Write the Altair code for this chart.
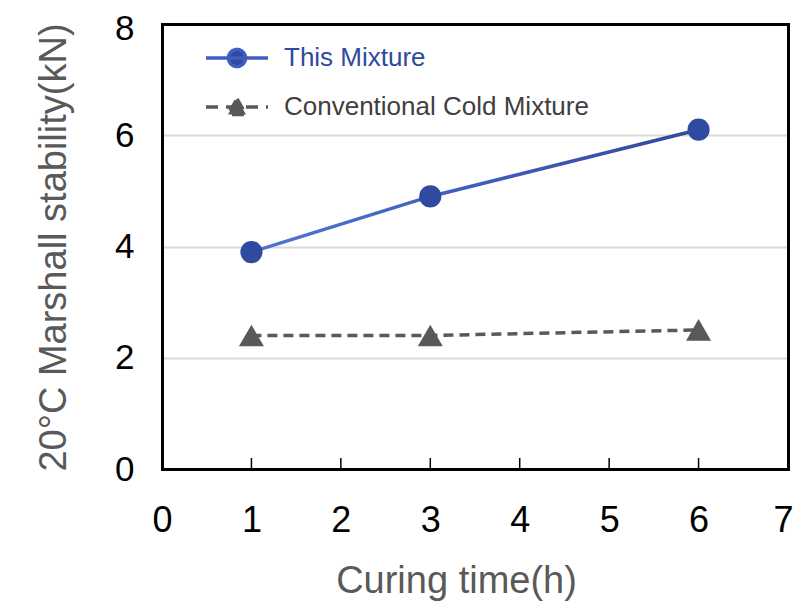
import altair as alt
import pandas as pd

# ---- data ----
curing_time = [1, 3, 6]
this_mixture = [3.9, 4.9, 6.1]
conventional = [2.4, 2.4, 2.5]
series_names = ["This Mixture", "Conventional Cold Mixture"]
x_ticks = [0, 1, 2, 3, 4, 5, 6, 7]
y_ticks = [0, 2, 4, 6, 8]

rows = []
for t, v in zip(curing_time, this_mixture):
    rows.append({"time": t, "value": v, "series": series_names[0]})
for t, v in zip(curing_time, conventional):
    rows.append({"time": t, "value": v, "series": series_names[1]})
df = pd.DataFrame(rows)
tick_df = pd.DataFrame({"time": x_ticks[1:-1]})

BLUE = "#2f4a9e"
BLUE_L = "#5073d4"
GRAY = "#595959"
TXT_GRAY = "#404040"
SANS = "Liberation Sans, Arial, sans-serif"

x_scale = alt.Scale(domain=[0, 7], nice=False, zero=False)
y_scale = alt.Scale(domain=[0, 8], nice=False)

x_axis = alt.Axis(
    values=x_ticks, title="Curing time(h)", grid=False, ticks=False,
    domain=True, domainColor="black", domainWidth=3, domainCap="square",
    labelFont=SANS, labelFontSize=36, labelColor="black", labelPadding=34,
    labelFlush=False, labelBaseline="top",
    labelOffset={"expr": "datum.value == 7 ? -5 : 0"},
    titleFont=SANS, titleFontSize=38, titleFontWeight="normal", titleColor=GRAY,
    titleX=294, titleY=123, titleBaseline="alphabetic", titleAlign="center",
)
y_axis = alt.Axis(
    values=y_ticks, title="20°C Marshall stability(kN)", grid=True,
    gridColor="#d9d9d9", gridWidth=2, ticks=False,
    domain=True, domainColor="black", domainWidth=3, domainCap="square",
    labelFont=SANS, labelFontSize=35, labelColor="black", labelPadding=28,
    labelFlush=False,
    labelOffset={"expr": "datum.value == 8 ? 4 : 0"},
    titleFont=SANS, titleFontSize=38, titleFontWeight="normal", titleColor=GRAY,
    titleX=-97, titleY=223, titleAngle=-90, titleBaseline="alphabetic",
    titleAlign="center",
)
x_axis_top = alt.Axis(
    orient="top", values=x_ticks, title=None, labels=False, ticks=False, grid=False,
    domain=True, domainColor="black", domainWidth=3, domainCap="square",
)
y_axis_right = alt.Axis(
    orient="right", values=y_ticks, title=None, labels=False, ticks=False, grid=False,
    domain=True, domainColor="black", domainWidth=3, domainCap="square",
)

x_enc = alt.X("time:Q", scale=x_scale, axis=x_axis)
y_enc = alt.Y("value:Q", scale=y_scale, axis=y_axis)

base = alt.Chart(df)

gradient = alt.LinearGradient(
    gradient="linear",
    stops=[alt.GradientStop(offset=0, color=BLUE_L), alt.GradientStop(offset=1, color=BLUE)],
    x1=0, x2=1, y1=0, y2=0,
)

line_this = base.transform_filter(alt.datum.series == series_names[0]).mark_line(
    stroke=gradient, strokeWidth=3.5
).encode(x=x_enc, y=y_enc)

line_conv = base.transform_filter(alt.datum.series == series_names[1]).mark_line(
    color=GRAY, strokeWidth=3.5, strokeDash=[10, 6]
).encode(x=x_enc, y=y_enc)

pts_this = base.transform_filter(alt.datum.series == series_names[0]).mark_point(
    shape="circle", filled=True, size=490, color=BLUE, opacity=1
).encode(x=x_enc, y=y_enc)

pts_conv = base.transform_filter(alt.datum.series == series_names[1]).mark_point(
    shape="triangle-up", filled=True, size=625, color=GRAY, opacity=1
).encode(x=x_enc, y=y_enc)

inner_ticks = alt.Chart(tick_df).mark_rule(color="black", strokeWidth=1.5).encode(
    x=x_enc, y=alt.value(445), y2=alt.value(434)
)

# legend symbols: line + marker drawn as custom symbol paths
path_circle = "M-3.1,0H3.1M0.85,0A0.85,0.85,0,1,1,-0.85,0A0.85,0.85,0,1,1,0.85,0Z"
path_tri = "M-3.1,0H3.1M0,-0.8L0.9,0.75L-0.9,0.75Z"

legend = alt.Legend(
    orient="none", legendX=62, legendY=21, title=None, padding=0,
    symbolSize=400, symbolStrokeWidth=3.5,
    labelFont=SANS, labelFontSize=26, labelOffset=34, rowPadding=18, labelLimit=600,
    labelColor={"expr": "datum.label == 'This Mixture' ? '%s' : '%s'" % (BLUE, TXT_GRAY)},
)

# empty layer: supplies the legend and the top/right frame lines
frame_legend = base.transform_filter("datum.time < 0").mark_point(opacity=1).encode(
    x=alt.X("time:Q", scale=x_scale, axis=x_axis_top),
    y=alt.Y("value:Q", scale=y_scale, axis=y_axis_right),
    fill=alt.Fill("series:N", scale=alt.Scale(domain=series_names, range=[BLUE, GRAY]), legend=legend),
    stroke=alt.Stroke("series:N", scale=alt.Scale(domain=series_names, range=["#3f5fc0", GRAY]), legend=legend),
    shape=alt.Shape("series:N", scale=alt.Scale(domain=series_names, range=[path_circle, path_tri]), legend=legend),
    strokeDash=alt.StrokeDash("series:N", scale=alt.Scale(domain=series_names, range=[[1, 0], [12, 8]]), legend=legend),
)

main = alt.layer(line_this, line_conv, pts_this, pts_conv, inner_ticks)

chart = alt.layer(main, frame_legend).resolve_axis(
    x="independent", y="independent"
).properties(
    width=626, height=445,
    autosize=alt.AutoSizeParams(type="none"),
    padding={"left": 154, "top": 16, "right": 6, "bottom": 132},
    background="white",
).configure_view(strokeWidth=0)

chart.save("out.html", embed_options={"renderer": "svg", "actions": False})
